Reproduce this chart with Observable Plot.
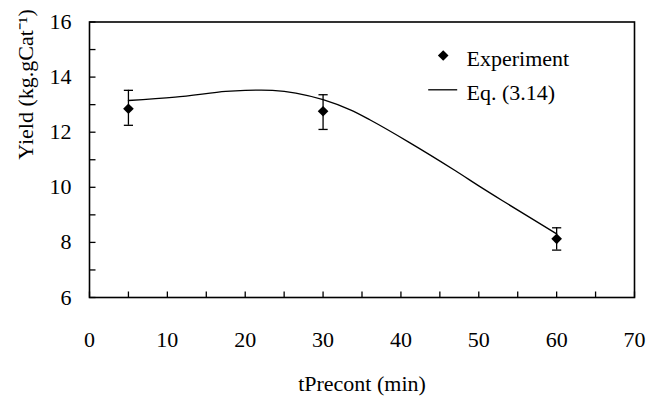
<!DOCTYPE html>
<html><head><meta charset="utf-8">
<script src="https://cdn.jsdelivr.net/npm/d3@7"></script>
<script src="https://cdn.jsdelivr.net/npm/@observablehq/plot@0.6"></script>
<style>
html,body{margin:0;padding:0;background:#fff;}
svg{display:block}
</style>
</head><body><div id="chart"></div>
<script>
// Experimental points (tPrecont in min, yield in kg.gCat-1) with error bars
const expTime = [5, 30, 60];
const expYield = [12.85, 12.76, 8.13];
const expLow = [12.25, 12.10, 7.72];
const expHigh = [13.52, 13.36, 8.53];
// Model curve Eq. (3.14)
const eqTime = [5, 11, 17.5, 20, 23.5, 26.5, 30, 33.5, 36, 41, 47, 50, 53, 60];
const eqYield = [13.15, 13.27, 13.48, 13.52, 13.52, 13.42, 13.18, 12.81, 12.45, 11.64, 10.6, 10.05, 9.52, 8.31];
// Axes
const xTicks = [0, 10, 20, 30, 40, 50, 60, 70];
const xMinor = [5, 15, 25, 35, 45, 55, 65];
const yTicks = [6, 8, 10, 12, 14, 16];
const yMinor = [7, 9, 11, 13, 15];
const xTitle = "tPrecont (min)";
const yTitle = "Yield (kg.gCat\u207B\u00B9)";
const legendLabels = ["Experiment", "Eq. (3.14)"];

const expData = expTime.map((t, i) => ({t, y: expYield[i], lo: expLow[i], hi: expHigh[i]}));
const eqData = eqTime.map((t, i) => ({t, y: eqYield[i]}));

const rad = s => Math.sqrt(s / Math.PI);
const hbar = {draw(ctx, size) { const r = rad(size); ctx.moveTo(-r, 0); ctx.lineTo(r, 0); }};
const tickUp = {draw(ctx, size) { const r = rad(size); ctx.moveTo(0, 0); ctx.lineTo(0, -r); }};
const tickRight = {draw(ctx, size) { const r = rad(size); ctx.moveTo(0, 0); ctx.lineTo(r, 0); }};

const FONT = "Liberation Serif";
const FS = 22;
const lw = 1.3;

const chart = Plot.plot({
  width: 647,
  height: 398,
  marginLeft: 89,
  marginRight: 13,
  marginTop: 21.5,
  marginBottom: 101,
  x: {domain: [0, 70]},
  y: {domain: [6, 16]},
  marks: [
    Plot.axisX({ticks: xTicks, tickSize: 0, tickPadding: 34, label: null, fontSize: FS, fontFamily: FONT}),
    Plot.axisY({ticks: yTicks, tickSize: 0, tickPadding: 18, label: null, fontSize: FS, fontFamily: FONT}),
    // inward tick marks
    Plot.dot(xTicks.concat(xMinor), {x: d => d, frameAnchor: "bottom", symbol: tickUp, r: 6, fill: "none", stroke: "black", strokeWidth: lw}),
    Plot.dot(yTicks.concat(yMinor), {y: d => d, frameAnchor: "left", symbol: tickRight, r: 6, fill: "none", stroke: "black", strokeWidth: lw}),
    Plot.frame({stroke: "black", strokeWidth: 1.6}),
    // model line
    Plot.line(eqData, {x: "t", y: "y", curve: "catmull-rom", stroke: "black", strokeWidth: lw}),
    // error bars
    Plot.ruleX(expData, {x: "t", y1: "lo", y2: "hi", stroke: "black", strokeWidth: lw}),
    Plot.dot(expData, {x: "t", y: "lo", symbol: hbar, r: 4.6, fill: "none", stroke: "black", strokeWidth: lw}),
    Plot.dot(expData, {x: "t", y: "hi", symbol: hbar, r: 4.6, fill: "none", stroke: "black", strokeWidth: lw}),
    // points
    Plot.dot(expData, {x: "t", y: "y", symbol: "diamond2", r: 4.8, fill: "black", stroke: "none"}),
    // axis titles
    Plot.text([xTitle], {frameAnchor: "bottom", dy: 86, lineAnchor: "middle", fontSize: FS, fontFamily: FONT}),
    Plot.text([yTitle], {frameAnchor: "left", dx: -64, rotate: -90, lineAnchor: "middle", fontSize: FS, fontFamily: FONT}),
    // legend
    Plot.dot([legendLabels[0]], {frameAnchor: "top-left", dx: 353.7, dy: 33.5, symbol: "diamond2", r: 4.8, fill: "black", stroke: "none"}),
    Plot.text([legendLabels[0]], {frameAnchor: "top-left", dx: 377, dy: 36.8, textAnchor: "start", lineAnchor: "middle", fontSize: FS, fontFamily: FONT}),
    Plot.dot([legendLabels[1]], {frameAnchor: "top-left", dx: 353.2, dy: 67.8, symbol: hbar, r: 14.5, fill: "none", stroke: "black", strokeWidth: lw}),
    Plot.text([legendLabels[1]], {frameAnchor: "top-left", dx: 377, dy: 70.5, textAnchor: "start", lineAnchor: "middle", fontSize: FS, fontFamily: FONT})
  ]
});
d3.select(chart).style("font-family", "'Liberation Serif', serif").style("font-size", FS + "px").style("background", "white");
d3.select(chart).selectAll("text").style("font-family", "'Liberation Serif', serif");
document.getElementById("chart").appendChild(chart);
</script>
</body></html>
